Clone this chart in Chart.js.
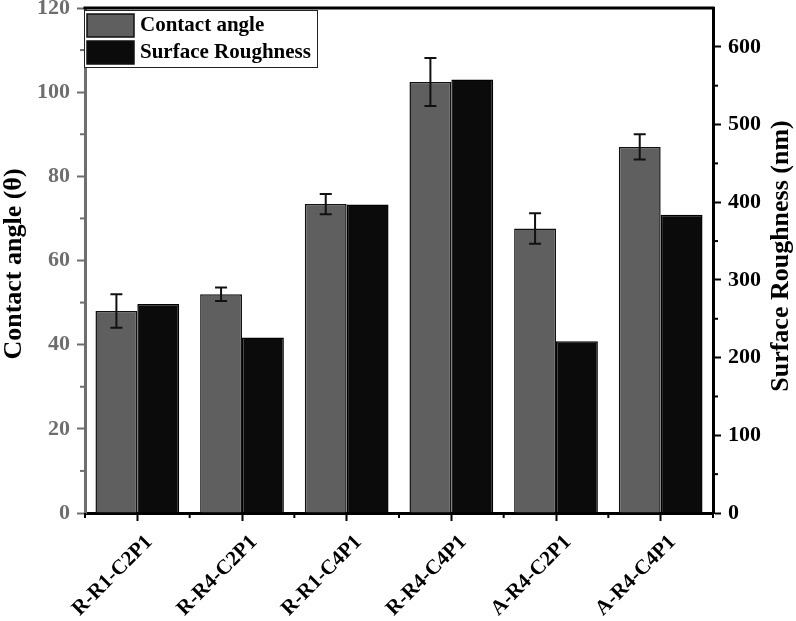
<!DOCTYPE html>
<html lang="en">
<head>
    <meta charset="UTF-8">
    <title>Contact angle / Surface Roughness</title>
    <style>
        body {
            margin: 0;
            padding: 0;
            background-color: #fff;
        }
        #wrap {
            width: 796px;
            height: 621px;
            position: relative;
        }
    </style>
</head>
<body>
    <div id="wrap">
        <canvas id="bar-chart"></canvas>
    </div>

    <script src="https://cdn.jsdelivr.net/npm/chart.js"></script>
    <script>
        // data
        var categories = ['R-R1-C2P1', 'R-R4-C2P1', 'R-R1-C4P1', 'R-R4-C4P1', 'A-R4-C2P1', 'A-R4-C4P1'];
        var contactAngle = [48.0, 52.0, 73.4, 102.4, 67.6, 87.0];
        var contactAngleErr = [4.0, 1.6, 2.4, 5.7, 3.6, 3.0];
        var roughness = [269, 226, 397, 558, 221, 384];
        var leftTicks = [0, 20, 40, 60, 80, 100, 120];
        var rightTicks = [0, 100, 200, 300, 400, 500, 600];

        var FONT = "'Liberation Serif', 'Times New Roman', serif";
        var GRAY_AXIS = '#6e6e6e';

        // error bars, frame, minor ticks, titles, legend
        var decor = {
            id: 'decor',
            afterDatasetsDraw: function(chart) {
                var ctx = chart.ctx;
                var y = chart.scales.y;
                var meta = chart.getDatasetMeta(0);
                ctx.save();
                ctx.strokeStyle = '#111';
                ctx.lineWidth = 2;
                meta.data.forEach(function(bar, i) {
                    var hi = y.getPixelForValue(contactAngle[i] + contactAngleErr[i]);
                    var lo = y.getPixelForValue(contactAngle[i] - contactAngleErr[i]);
                    ctx.beginPath();
                    ctx.moveTo(bar.x, hi); ctx.lineTo(bar.x, lo);
                    ctx.moveTo(bar.x - 6, hi); ctx.lineTo(bar.x + 6, hi);
                    ctx.moveTo(bar.x - 6, lo); ctx.lineTo(bar.x + 6, lo);
                    ctx.stroke();
                });
                ctx.restore();
            },
            afterDraw: function(chart) {
                var ctx = chart.ctx;
                var a = chart.chartArea;
                var y = chart.scales.y, y1 = chart.scales.y1, x = chart.scales.x;
                ctx.save();

                // top frame line
                ctx.strokeStyle = '#000';
                ctx.lineWidth = 3;
                ctx.beginPath();
                ctx.moveTo(a.left - 1.5, a.top); ctx.lineTo(a.right + 1.5, a.top);
                ctx.stroke();

                // minor ticks
                ctx.lineWidth = 2;
                ctx.strokeStyle = GRAY_AXIS;
                for (var v = 10; v < 120; v += 20) {
                    var py = y.getPixelForValue(v);
                    ctx.beginPath(); ctx.moveTo(a.left - 5, py); ctx.lineTo(a.left, py); ctx.stroke();
                }
                ctx.strokeStyle = '#000';
                for (var w = 50; w < 650; w += 100) {
                    var qy = y1.getPixelForValue(w);
                    ctx.beginPath(); ctx.moveTo(a.right, qy); ctx.lineTo(a.right + 5, qy); ctx.stroke();
                }
                for (var k = 0; k <= categories.length; k++) {
                    var px = x.getPixelForValue(k - 0.5);
                    ctx.beginPath(); ctx.moveTo(px, a.bottom); ctx.lineTo(px, a.bottom + 5); ctx.stroke();
                }

                // axis titles
                ctx.fillStyle = '#000';
                ctx.font = 'bold 26px ' + FONT;
                ctx.textAlign = 'center';
                ctx.textBaseline = 'middle';
                ctx.save();
                ctx.translate(14, 264);
                ctx.rotate(-Math.PI / 2);
                ctx.fillText('Contact angle (\u03b8)', 0, 0);
                ctx.restore();
                ctx.save();
                ctx.translate(781, 256);
                ctx.rotate(-Math.PI / 2);
                ctx.fillText('Surface Roughness (nm)', 0, 0);
                ctx.restore();

                // legend box
                var lx = a.left - 1, ly = a.top + 2, lw = 233, lh = 57;
                ctx.fillStyle = '#fff';
                ctx.fillRect(lx, ly, lw, lh);
                ctx.strokeStyle = '#222';
                ctx.lineWidth = 1;
                ctx.strokeRect(lx + 0.5, ly + 0.5, lw, lh);
                ctx.font = 'bold 21px ' + FONT;
                ctx.textAlign = 'left';
                chart.data.datasets.forEach(function(ds, i) {
                    var sy = ly + 4 + i * 27;
                    ctx.fillStyle = ds.backgroundColor;
                    ctx.fillRect(lx + 3, sy, 47, 23);
                    ctx.strokeStyle = '#111';
                    ctx.lineWidth = 1.5;
                    ctx.strokeRect(lx + 3, sy, 47, 23);
                    ctx.fillStyle = '#000';
                    ctx.fillText(ds.label, lx + 56, sy + 12);
                });
                ctx.restore();
            }
        };

        function fitY(width) {
            return function(s) {
                s.width = width;
                s.paddingTop = 0;
                s.paddingBottom = 0;
            };
        }

        document.addEventListener('DOMContentLoaded', function() {
            var ctxBar = document.getElementById('bar-chart').getContext('2d');
            new Chart(ctxBar, {
                type: 'bar',
                data: {
                    labels: categories,
                    datasets: [{
                        label: 'Contact angle',
                        data: contactAngle,
                        yAxisID: 'y',
                        backgroundColor: '#5f5f5f',
                        borderColor: '#111',
                        borderWidth: 1.5
                    }, {
                        label: 'Surface Roughness',
                        data: roughness,
                        yAxisID: 'y1',
                        backgroundColor: '#0b0b0b',
                        borderColor: '#000',
                        borderWidth: 1.5
                    }]
                },
                options: {
                    responsive: true,
                    maintainAspectRatio: false,
                    animation: false,
                    datasets: {
                        bar: {
                            categoryPercentage: 0.8,
                            barPercentage: 1.0
                        }
                    },
                    layout: {
                        padding: { top: 8, left: 0, right: 0, bottom: 0 }
                    },
                    plugins: {
                        legend: { display: false },
                        tooltip: { enabled: false }
                    },
                    scales: {
                        x: {
                            offset: true,
                            afterFit: function(s) {
                                s.height = 108;
                                s.paddingLeft = 0;
                                s.paddingRight = 0;
                            },
                            grid: {
                                offset: false,
                                drawOnChartArea: false,
                                tickLength: 8,
                                tickWidth: 2,
                                tickColor: '#000'
                            },
                            border: { color: '#000', width: 3 },
                            ticks: {
                                maxRotation: 45,
                                minRotation: 45,
                                padding: 9,
                                labelOffset: 12,
                                color: '#000',
                                font: { family: FONT, size: 21, weight: 'bold' }
                            }
                        },
                        y: {
                            position: 'left',
                            min: 0,
                            max: 120,
                            afterFit: fitY(85),
                            afterBuildTicks: function(s) {
                                s.ticks = leftTicks.map(function(v) { return { value: v }; });
                            },
                            grid: {
                                drawOnChartArea: false,
                                tickLength: 8,
                                tickWidth: 2,
                                tickColor: GRAY_AXIS
                            },
                            border: { color: GRAY_AXIS, width: 3 },
                            ticks: {
                                padding: 7,
                                color: GRAY_AXIS,
                                font: { family: FONT, size: 22, weight: 'bold' }
                            }
                        },
                        y1: {
                            position: 'right',
                            min: 0,
                            max: 650,
                            afterFit: fitY(83),
                            afterBuildTicks: function(s) {
                                s.ticks = rightTicks.map(function(v) { return { value: v }; });
                            },
                            grid: {
                                drawOnChartArea: false,
                                tickLength: 8,
                                tickWidth: 2,
                                tickColor: '#000'
                            },
                            border: { color: '#000', width: 3 },
                            ticks: {
                                padding: 7,
                                color: '#000',
                                font: { family: FONT, size: 22, weight: 'bold' }
                            }
                        }
                    }
                },
                plugins: [decor]
            });
        });
    </script>
</body>
</html>
